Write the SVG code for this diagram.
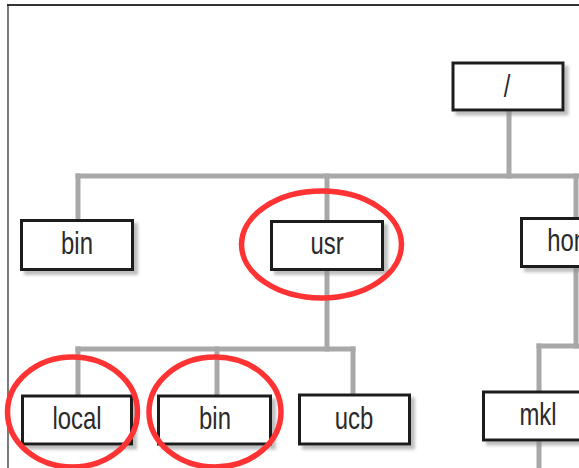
<svg xmlns="http://www.w3.org/2000/svg" width="579" height="468" viewBox="0 0 579 468">
<style>
.box{fill:#fff;stroke:#1e1e1e;stroke-width:3;filter:url(#sh)}
.lbl{font-family:"Liberation Sans",Arial,sans-serif;font-size:31px;fill:#2a2a2a;text-anchor:middle}
.ln{stroke:#a8a8a8;stroke-width:5;fill:none;stroke-linecap:square}
.hl{fill:none;stroke:#ff3333;stroke-width:5.5}
</style>
<defs>
<filter id="sh" x="-10%" y="-20%" width="130%" height="160%">
<feDropShadow dx="4" dy="4" stdDeviation="1.8" flood-color="#888" flood-opacity="0.55"/>
</filter>
</defs>
<rect x="0" y="0" width="579" height="468" fill="#fff"/>
<g id="frame">
<line x1="7" y1="5" x2="579" y2="5" stroke="#333" stroke-width="2"/>
<line x1="8" y1="5" x2="8" y2="468" stroke="#222" stroke-width="1.2"/>
</g>
<g id="connectors">
<line class="ln" x1="509" y1="111" x2="509" y2="176"/>
<line class="ln" x1="78" y1="176" x2="582" y2="176"/>
<line class="ln" x1="78" y1="176" x2="78" y2="220"/>
<line class="ln" x1="327" y1="176" x2="327" y2="221"/>
<line class="ln" x1="327" y1="270" x2="327" y2="349"/>
<line class="ln" x1="576" y1="176" x2="576" y2="218"/>
<line class="ln" x1="576" y1="267" x2="576" y2="346"/>
<line class="ln" x1="78" y1="349" x2="353" y2="349"/>
<line class="ln" x1="78" y1="349" x2="78" y2="396"/>
<line class="ln" x1="217" y1="349" x2="217" y2="396"/>
<line class="ln" x1="353" y1="349" x2="353" y2="395"/>
<line class="ln" x1="539" y1="346" x2="582" y2="346"/>
<line class="ln" x1="539" y1="346" x2="539" y2="392"/>
<line class="ln" x1="539" y1="440" x2="539" y2="472"/>
</g>
<g id="root">
<rect class="box" x="453" y="63" width="110" height="47"/>
<text class="lbl" transform="translate(507,97) scale(0.77,1)" x="0" y="0">/</text>
</g>
<g id="bin1">
<rect class="box" x="21.5" y="220.5" width="111" height="49"/>
<text class="lbl" transform="translate(77,254) scale(0.77,1)" x="0" y="0">bin</text>
</g>
<g id="usr">
<rect class="box" x="271.5" y="221.5" width="111" height="48"/>
<text class="lbl" transform="translate(327,254) scale(0.77,1)" x="0" y="0">usr</text>
</g>
<g id="home">
<rect class="box" x="521.5" y="218.5" width="111" height="48"/>
<text class="lbl" transform="translate(577,251) scale(0.77,1)" x="0" y="0">home</text>
</g>
<g id="local">
<rect class="box" x="22.5" y="396" width="109" height="48"/>
<text class="lbl" transform="translate(77,429) scale(0.77,1)" x="0" y="0">local</text>
</g>
<g id="bin2">
<rect class="box" x="158.5" y="396" width="112" height="48"/>
<text class="lbl" transform="translate(215,429) scale(0.77,1)" x="0" y="0">bin</text>
</g>
<g id="ucb">
<rect class="box" x="299.5" y="395" width="110" height="49"/>
<text class="lbl" transform="translate(354,429) scale(0.77,1)" x="0" y="0">ucb</text>
</g>
<g id="mkl">
<rect class="box" x="483.5" y="392" width="111" height="48"/>
<text class="lbl" transform="translate(538,425) scale(0.77,1)" x="0" y="0">mkl</text>
</g>
<g id="highlights">
<ellipse class="hl" cx="321.5" cy="244.5" rx="80" ry="53.5"/>
<ellipse class="hl" cx="72.5" cy="412" rx="65" ry="55"/>
<ellipse class="hl" cx="215" cy="412" rx="66" ry="55"/>
</g>
</svg>
